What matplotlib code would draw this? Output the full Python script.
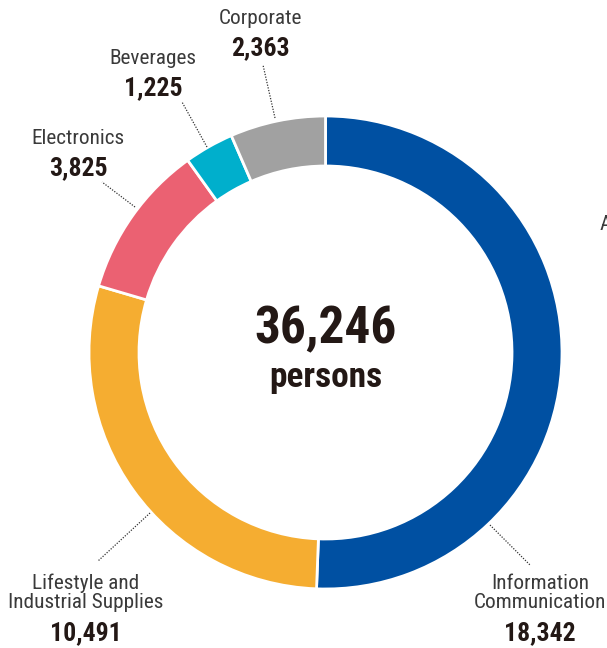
import matplotlib.pyplot as plt

# employees by segment
segments = ["Information\nCommunication", "Lifestyle and\nIndustrial Supplies",
            "Electronics", "Beverages", "Corporate"]
persons = [18342, 10491, 3825, 1225, 2363]
colors = ["#0050A2", "#F5AD31", "#EB6172", "#00AFCC", "#A1A1A1"]

# label anchor (x, y in pixels from top-left) and leader line ends
label_pos = [(540, 593), (86, 593), (78, 139), (153, 59), (260, 19)]
leaders = [((490, 525), (530, 565)), ((150, 513), (98, 561)),
           ((135, 207), (102, 182)), ((207, 147), (182, 102)),
           ((275, 118), (263, 65))]

W, H = 607, 648
ink = "#231815"
fam = ["Roboto Condensed", "Archivo Narrow", "DejaVu Sans"]

fig = plt.figure(figsize=(W / 100, H / 100), dpi=100)
ax = fig.add_axes([0, 0, 1, 1])
ax.axis("off")

cx, cy = 325.5, H - 352.5
ax.pie(persons, colors=colors, startangle=90, counterclock=False,
       radius=236.5, center=(cx, cy),
       wedgeprops=dict(width=50, edgecolor="white", linewidth=2))
ax.set_xlim(0, W)
ax.set_ylim(0, H)
ax.set_aspect("equal")

for name, val, (x, y), (p0, p1) in zip(segments, persons, label_pos, leaders):
    nlines = name.count("\n") + 1
    ax.text(x, H - y, name, ha="center", va="center", fontsize=15.3,
            color="#3a3a3a", family=fam, linespacing=1.0)
    vy = y + 18 + 11 * nlines
    ax.text(x, H - vy, f"{val:,}", ha="center", va="center", fontsize=18.5,
            fontweight="bold", color=ink, family=fam)
    ax.plot([p0[0], p1[0]], [H - p0[1], H - p1[1]], color="#333333",
            lw=0.9, ls=(0, (1, 1.2)))

total = sum(persons)
ax.text(cx, H - 329, f"{total:,}", ha="center", va="center", fontsize=37,
        fontweight="bold", color=ink, family=fam)
ax.text(cx, H - 378, "persons", ha="center", va="center", fontsize=25.5,
        fontweight="bold", color=ink, family=fam)

# edge of the neighbouring panel
ax.text(600, H - 225, "A", ha="left", va="center", fontsize=15.3,
        color="#3a3a3a", family=fam)

fig.savefig("out.png", dpi=100)
